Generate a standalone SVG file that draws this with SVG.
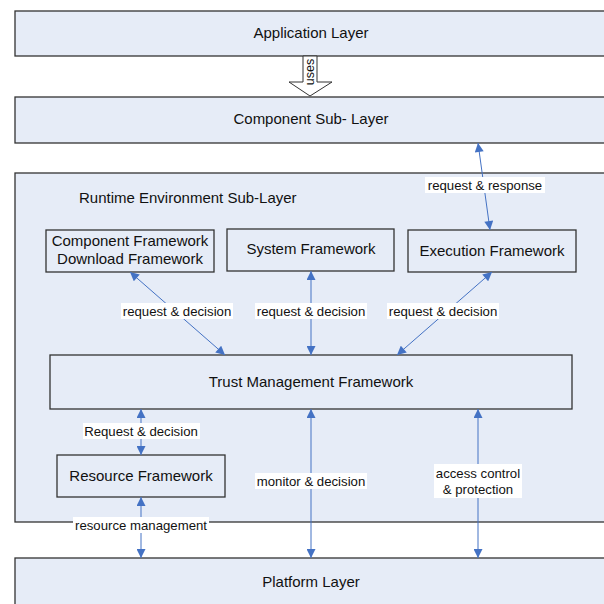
<svg xmlns="http://www.w3.org/2000/svg" width="604" height="604" viewBox="0 0 604 604">
<style>
.box{fill:#E6ECF7;stroke:#333;stroke-width:1.3}
.t{font-family:"Liberation Sans",Arial,sans-serif;font-size:15px;fill:#111;text-anchor:middle;dominant-baseline:central}
.l{font-family:"Liberation Sans",Arial,sans-serif;font-size:13.2px;fill:#111;text-anchor:middle;dominant-baseline:central}
.c{stroke:#4472C4;stroke-width:1;fill:none;marker-start:url(#a);marker-end:url(#a)}
.bg{fill:#fff}
</style>
<defs>
<marker id="a" viewBox="0 0 10 10" refX="10" refY="5" markerWidth="10" markerHeight="9" markerUnits="userSpaceOnUse" orient="auto-start-reverse">
<path d="M0,0 L10,5 L0,10 Z" fill="#4472C4"/>
</marker>
</defs>
<g id="application-layer"><rect class="box" x="15" y="11" width="600" height="45"/><text class="t" x="311" y="32">Application Layer</text></g>
<g id="component-sub-layer"><rect class="box" x="15" y="97" width="600" height="46"/><text class="t" x="311" y="118">Component Sub- Layer</text></g>
<g id="runtime-environment"><rect class="box" x="15" y="173" width="600" height="349"/><text class="t" x="79" y="197" style="text-anchor:start">Runtime Environment Sub-Layer</text></g>
<g id="component-framework"><rect class="box" x="46" y="230" width="168" height="42"/><text class="t" x="130" y="240">Component Framework</text><text class="t" x="130" y="258">Download Framework</text></g>
<g id="system-framework"><rect class="box" x="227" y="229" width="167" height="42"/><text class="t" x="311" y="248">System Framework</text></g>
<g id="execution-framework"><rect class="box" x="408" y="230" width="168" height="42"/><text class="t" x="492" y="250">Execution Framework</text></g>
<g id="trust-management-framework"><rect class="box" x="50" y="355" width="522" height="54"/><text class="t" x="311" y="381">Trust Management Framework</text></g>
<g id="resource-framework"><rect class="box" x="57" y="455" width="168" height="42"/><text class="t" x="141" y="475">Resource Framework</text></g>
<g id="platform-layer"><rect class="box" x="15" y="558" width="600" height="60"/><text class="t" x="311" y="581">Platform Layer</text></g>
<g id="connectors">
<g id="uses">
<path d="M303,56 L317,56 L317,82 L332,82 L310,96 L289,82 L303,82 Z" fill="#fff" stroke="#333" stroke-width="1"/>
<text class="l" x="310" y="72" transform="rotate(-90 310 72)" style="font-size:12.5px">uses</text>
</g>
<line class="c" x1="478" y1="143" x2="490" y2="230"/>
<rect class="bg" x="425" y="177" width="120" height="16"/><text class="l" x="485" y="185">request &amp; response</text>
<line class="c" x1="130" y1="272" x2="225" y2="355"/>
<rect class="bg" x="121" y="303" width="112" height="16"/><text class="l" x="177" y="311">request &amp; decision</text>
<line class="c" x1="311" y1="271" x2="311" y2="355"/>
<rect class="bg" x="255" y="303" width="112" height="16"/><text class="l" x="311" y="311">request &amp; decision</text>
<line class="c" x1="492" y1="272" x2="397" y2="355"/>
<rect class="bg" x="387" y="303" width="112" height="16"/><text class="l" x="443" y="311">request &amp; decision</text>
<line class="c" x1="141" y1="409" x2="141" y2="455"/>
<rect class="bg" x="83" y="423" width="117" height="16"/><text class="l" x="141" y="431">Request &amp; decision</text>
<line class="c" x1="311" y1="409" x2="311" y2="558"/>
<rect class="bg" x="255" y="473" width="112" height="16"/><text class="l" x="311" y="481">monitor &amp; decision</text>
<line class="c" x1="478" y1="409" x2="478" y2="558"/>
<rect class="bg" x="434" y="464" width="88" height="34"/><text class="l" x="478" y="473">access control</text><text class="l" x="478" y="489">&amp; protection</text>
<line class="c" x1="141" y1="497" x2="141" y2="558"/>
<rect class="bg" x="73" y="517" width="136" height="16"/><text class="l" x="141" y="525">resource management</text>
</g>
</svg>
